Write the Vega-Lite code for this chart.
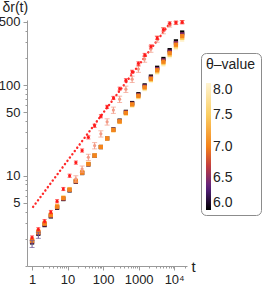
{
  "$schema": "https://vega.github.io/schema/vega-lite/v6.json",
  "width": 160,
  "height": 246,
  "autosize": "none",
  "padding": {"left": 27, "top": 20, "right": 79, "bottom": 22},
  "datasets": {
    "line": [{"t": 1.07, "v": 4.5}, {"t": 7700, "v": 484}],
    "band": [
      {"t":1,"th":8,"v":1.981},{"t":1,"th":6,"v":1.822},{"t":1,"th":6.5,"v":1.862},{"t":1,"th":7.5,"v":1.939},{"t":1,"th":7,"v":1.9},
      {"t":1.5,"th":8,"v":2.452},{"t":1.5,"th":6,"v":2.274},{"t":1.5,"th":6.5,"v":2.316},{"t":1.5,"th":7.5,"v":2.407},{"t":1.5,"th":7,"v":2.361},
      {"t":2.25,"th":8,"v":3.035},{"t":2.25,"th":6,"v":2.832},{"t":2.25,"th":6.5,"v":2.882},{"t":2.25,"th":7.5,"v":2.983},{"t":2.25,"th":7,"v":2.932},
      {"t":3.375,"th":8,"v":3.755},{"t":3.375,"th":6,"v":3.533},{"t":3.375,"th":6.5,"v":3.587},{"t":3.375,"th":7.5,"v":3.698},{"t":3.375,"th":7,"v":3.642},
      {"t":5.063,"th":8,"v":4.651},{"t":5.063,"th":6,"v":4.403},{"t":5.063,"th":6.5,"v":4.466},{"t":5.063,"th":7.5,"v":4.585},{"t":5.063,"th":7,"v":4.525},
      {"t":7.594,"th":8,"v":5.754},{"t":7.594,"th":6,"v":5.493},{"t":7.594,"th":6.5,"v":5.555},{"t":7.594,"th":7.5,"v":5.69},{"t":7.594,"th":7,"v":5.622},
      {"t":11.39,"th":8,"v":7.117},{"t":11.39,"th":6,"v":6.849},{"t":11.39,"th":6.5,"v":6.912},{"t":11.39,"th":7.5,"v":7.053},{"t":11.39,"th":7,"v":6.982},
      {"t":17.09,"th":8,"v":8.816},{"t":17.09,"th":6,"v":8.536},{"t":17.09,"th":6.5,"v":8.606},{"t":17.09,"th":7.5,"v":8.745},{"t":17.09,"th":7,"v":8.675},
      {"t":25.63,"th":8,"v":10.91},{"t":25.63,"th":6,"v":10.65},{"t":25.63,"th":6.5,"v":10.72},{"t":25.63,"th":7.5,"v":10.85},{"t":25.63,"th":7,"v":10.78},
      {"t":38.44,"th":8,"v":13.5},{"t":38.44,"th":6,"v":13.28},{"t":38.44,"th":6.5,"v":13.34},{"t":38.44,"th":7.5,"v":13.44},{"t":38.44,"th":7,"v":13.39},
      {"t":57.67,"th":8,"v":16.71},{"t":57.67,"th":6,"v":16.55},{"t":57.67,"th":6.5,"v":16.58},{"t":57.67,"th":7.5,"v":16.68},{"t":57.67,"th":7,"v":16.63},
      {"t":86.5,"th":8,"v":20.68},{"t":86.5,"th":6,"v":20.64},{"t":86.5,"th":6.5,"v":20.65},{"t":86.5,"th":7.5,"v":20.67},{"t":86.5,"th":7,"v":20.66},
      {"t":129.7,"th":8,"v":25.53},{"t":129.7,"th":6,"v":25.79},{"t":129.7,"th":6.5,"v":25.71},{"t":129.7,"th":7.5,"v":25.61},{"t":129.7,"th":7,"v":25.66},
      {"t":194.6,"th":8,"v":31.5},{"t":194.6,"th":6,"v":32.26},{"t":194.6,"th":6.5,"v":32.07},{"t":194.6,"th":7.5,"v":31.69},{"t":194.6,"th":7,"v":31.88},
      {"t":291.9,"th":8,"v":38.82},{"t":291.9,"th":6,"v":40.39},{"t":291.9,"th":6.5,"v":40.0},{"t":291.9,"th":7.5,"v":39.21},{"t":291.9,"th":7,"v":39.6},
      {"t":437.9,"th":8,"v":47.9},{"t":437.9,"th":6,"v":50.52},{"t":437.9,"th":6.5,"v":49.83},{"t":437.9,"th":7.5,"v":48.56},{"t":437.9,"th":7,"v":49.19},
      {"t":656.8,"th":8,"v":59.11},{"t":656.8,"th":6,"v":63.2},{"t":656.8,"th":6.5,"v":62.16},{"t":656.8,"th":7.5,"v":60.1},{"t":656.8,"th":7,"v":61.12},
      {"t":985.3,"th":8,"v":72.87},{"t":985.3,"th":6,"v":79.12},{"t":985.3,"th":6.5,"v":77.52},{"t":985.3,"th":7.5,"v":74.37},{"t":985.3,"th":7,"v":75.93},
      {"t":1478,"th":8,"v":89.81},{"t":1478,"th":6,"v":99.02},{"t":1478,"th":6.5,"v":96.66},{"t":1478,"th":7.5,"v":92.0},{"t":1478,"th":7,"v":94.3},
      {"t":2217,"th":8,"v":110.9},{"t":2217,"th":6,"v":123.9},{"t":2217,"th":6.5,"v":120.5},{"t":2217,"th":7.5,"v":114.0},{"t":2217,"th":7,"v":117.2},
      {"t":3325,"th":8,"v":136.7},{"t":3325,"th":6,"v":155.1},{"t":3325,"th":6.5,"v":150.3},{"t":3325,"th":7.5,"v":141.1},{"t":3325,"th":7,"v":145.6},
      {"t":4988,"th":8,"v":168.5},{"t":4988,"th":6,"v":194.0},{"t":4988,"th":6.5,"v":187.3},{"t":4988,"th":7.5,"v":174.5},{"t":4988,"th":7,"v":180.8},
      {"t":7482,"th":8,"v":207.8},{"t":7482,"th":6,"v":242.8},{"t":7482,"th":6.5,"v":233.6},{"t":7482,"th":7.5,"v":216.0},{"t":7482,"th":7,"v":224.6},
      {"t":11223,"th":8,"v":256.2},{"t":11223,"th":6,"v":303.8},{"t":11223,"th":6.5,"v":291.3},{"t":11223,"th":7.5,"v":267.2},{"t":11223,"th":7,"v":279.0},
      {"t":16834,"th":8,"v":316.0},{"t":16834,"th":6,"v":380.2},{"t":16834,"th":6.5,"v":362.9},{"t":16834,"th":7.5,"v":331.0},{"t":16834,"th":7,"v":346.6}
    ],
    "bandErr": [
      {"t":1,"lo":1.6,"hi":1.92},{"t":1.5,"lo":2.02,"hi":2.36}
    ],
    "red": [
      {"t":1,"v":2.07,"lo":1.99,"hi":2.15},{"t":1.5,"v":2.55,"lo":2.45,"hi":2.65},{"t":2.25,"v":3.13,"lo":3.0,"hi":3.26},
      {"t":3.375,"v":3.95,"lo":3.79,"hi":4.11},{"t":5.063,"v":5.2,"lo":4.99,"hi":5.41},{"t":7.594,"v":7.1,"lo":6.82,"hi":7.38},
      {"t":11.39,"v":9.95,"lo":9.55,"hi":10.35},{"t":17.09,"v":13.9,"lo":13.34,"hi":14.46},{"t":25.63,"v":18.9,"lo":18.14,"hi":19.66},
      {"t":38.44,"v":26.4,"lo":25.34,"hi":27.46},{"t":57.67,"v":35.5,"lo":34.08,"hi":36.92},{"t":86.5,"v":45.2,"lo":43.39,"hi":47.01},
      {"t":129.7,"v":57.4,"lo":55.1,"hi":59.7},{"t":194.6,"v":72,"lo":69.1,"hi":74.9},{"t":291.9,"v":91.1,"lo":87.5,"hi":94.7},
      {"t":437.9,"v":113,"lo":108.5,"hi":117.5},{"t":656.8,"v":140,"lo":134.4,"hi":145.6},{"t":985.3,"v":173.6,"lo":166.7,"hi":180.5},
      {"t":1478,"v":215,"lo":206.4,"hi":223.6},{"t":2217,"v":267,"lo":256.3,"hi":277.7},{"t":3325,"v":331,"lo":317.8,"hi":344.2},
      {"t":4988,"v":410,"lo":393.6,"hi":426.4},{"t":7482,"v":480,"lo":460.8,"hi":499.2},{"t":11223,"v":490,"lo":470.4,"hi":509.6},
      {"t":16834,"v":495,"lo":475.2,"hi":514.8}
    ],
    "salmon": [
      {"t":17.09,"v":9.2,"lo":8.46,"hi":9.94},{"t":25.63,"v":11.8,"lo":10.86,"hi":12.74},{"t":38.44,"v":15.9,"lo":14.63,"hi":17.17},
      {"t":57.67,"v":21.4,"lo":19.69,"hi":23.11},{"t":86.5,"v":28.9,"lo":26.59,"hi":31.21},{"t":129.7,"v":39.2,"lo":36.06,"hi":42.34},
      {"t":194.6,"v":52.8,"lo":48.58,"hi":57.02},{"t":291.9,"v":69.7,"lo":64.12,"hi":75.28},{"t":437.9,"v":90,"lo":82.8,"hi":97.2},
      {"t":656.8,"v":116,"lo":106.7,"hi":125.3},{"t":985.3,"v":150,"lo":138,"hi":162},{"t":1478,"v":194,"lo":178.5,"hi":209.5},
      {"t":2217,"v":250,"lo":230,"hi":270},{"t":3325,"v":323,"lo":297.2,"hi":348.8},{"t":4988,"v":400,"lo":368,"hi":432},
      {"t":7482,"v":455,"lo":436.8,"hi":473.2},{"t":11223,"v":485,"lo":465.6,"hi":504.4},{"t":16834,"v":496,"lo":476.2,"hi":515.8}
    ]
  },
  "layer": [
    {
      "data": {"name": "line"},
      "mark": {"type": "line", "color": "#ff2a2a", "strokeWidth": 2.4, "strokeDash": [0.1, 4], "strokeCap": "round"},
      "encoding": {
        "x": {"field": "t", "type": "quantitative", "title": "t",
          "scale": {"type": "log", "domain": [0.72, 23000], "nice": false},
          "axis": {
            "values": [1,2,3,4,5,6,7,8,9,10,20,30,40,50,60,70,80,90,100,200,300,400,500,600,700,800,900,1000,2000,3000,4000,5000,6000,7000,8000,9000,10000,20000],
            "labelExpr": "datum.value == 10000 ? '10⁴' : (indexof([1,10,100,1000], datum.value) >= 0 ? format(datum.value, 'd') : '')",
            "tickSize": {"condition": {"test": "indexof([1,10,100,1000,10000], datum.value) >= 0", "value": 4}, "value": 2},
            "labelPadding": 3,
            "labelOverlap": false,
            "titleAngle": 0, "titleX": 164, "titleY": 5, "titleAlign": "left", "titleBaseline": "alphabetic", "titleFontSize": 15
          }
        },
        "y": {"field": "v", "type": "quantitative", "title": "δr(t)",
          "scale": {"type": "log", "domain": [1, 523], "nice": false},
          "axis": {
            "values": [1,2,3,4,5,6,7,8,9,10,20,30,40,50,60,70,80,90,100,200,300,400,500],
            "labelExpr": "indexof([5,10,50,100,500], datum.value) >= 0 ? format(datum.value, 'd') : ''",
            "tickSize": {"condition": {"test": "indexof([5,10,50,100,500], datum.value) >= 0", "value": 4}, "value": 2},
            "labelPadding": 3,
            "labelOverlap": false,
            "titleAngle": 0, "titleX": -25, "titleY": -9, "titleAlign": "left", "titleBaseline": "alphabetic", "titleFontSize": 14
          }
        }
      }
    },
    {
      "data": {"name": "band"},
      "mark": {"type": "square", "size": 18, "filled": true, "opacity": 1},
      "encoding": {
        "x": {"field": "t", "type": "quantitative", "title": "t"},
        "y": {"field": "v", "type": "quantitative", "title": "δr(t)"},
        "color": {"field": "th", "type": "quantitative", "title": "θ–value",
          "scale": {"domain": [6, 6.35, 6.7, 7.0, 7.5, 8], "range": ["#000000", "#5a2183", "#c43f3f", "#f5841b", "#fbcf63", "#fff4d2"], "interpolate": "rgb"},
          "legend": {"values": [6, 6.5, 7, 7.5, 8], "format": ".1f", "direction": "vertical", "orient": "none", "legendX": 174, "legendY": 33, "labelBaseline": "middle"}
        }
      }
    },
    {
      "data": {"name": "bandErr"},
      "mark": {"type": "errorbar", "ticks": {"size": 5}, "color": "#6f5796"},
      "encoding": {
        "x": {"field": "t", "type": "quantitative", "title": "t"},
        "y": {"field": "lo", "type": "quantitative", "title": "δr(t)"},
        "y2": {"field": "hi"}
      }
    },
    {
      "data": {"name": "salmon"},
      "mark": {"type": "errorbar", "ticks": {"size": 5}, "color": "#f29a86"},
      "encoding": {
        "x": {"field": "t", "type": "quantitative", "title": "t"},
        "y": {"field": "lo", "type": "quantitative", "title": "δr(t)"},
        "y2": {"field": "hi"}
      }
    },
    {
      "data": {"name": "salmon"},
      "mark": {"type": "circle", "size": 10, "color": "#f29a86", "opacity": 1},
      "encoding": {
        "x": {"field": "t", "type": "quantitative", "title": "t"},
        "y": {"field": "v", "type": "quantitative", "title": "δr(t)"}
      }
    },
    {
      "data": {"name": "red"},
      "mark": {"type": "errorbar", "ticks": {"size": 4}, "color": "#ff2020"},
      "encoding": {
        "x": {"field": "t", "type": "quantitative", "title": "t"},
        "y": {"field": "lo", "type": "quantitative", "title": "δr(t)"},
        "y2": {"field": "hi"}
      }
    },
    {
      "data": {"name": "red"},
      "mark": {"type": "circle", "size": 9, "color": "#ff1a1a", "opacity": 1},
      "encoding": {
        "x": {"field": "t", "type": "quantitative", "title": "t"},
        "y": {"field": "v", "type": "quantitative", "title": "δr(t)"}
      }
    }
  ],
  "config": {
    "font": "Liberation Sans",
    "view": {"stroke": null},
    "axis": {"grid": false, "domainColor": "#9a9a9a", "tickColor": "#9a9a9a", "labelColor": "#222222", "labelFontSize": 13, "titleColor": "#222222", "titleFontWeight": "normal", "titleFont": "Liberation Sans"},
    "legend": {"strokeColor": "#8c8c8c", "cornerRadius": 5, "padding": 5, "fillColor": "#ffffff", "gradientLength": 127, "gradientThickness": 5, "labelFontSize": 14, "titleFontSize": 14, "titleFontWeight": "normal", "titleColor": "#222222", "labelColor": "#222222", "titlePadding": 11, "labelOffset": 3, "gradientStrokeWidth": 0}
  }
}
